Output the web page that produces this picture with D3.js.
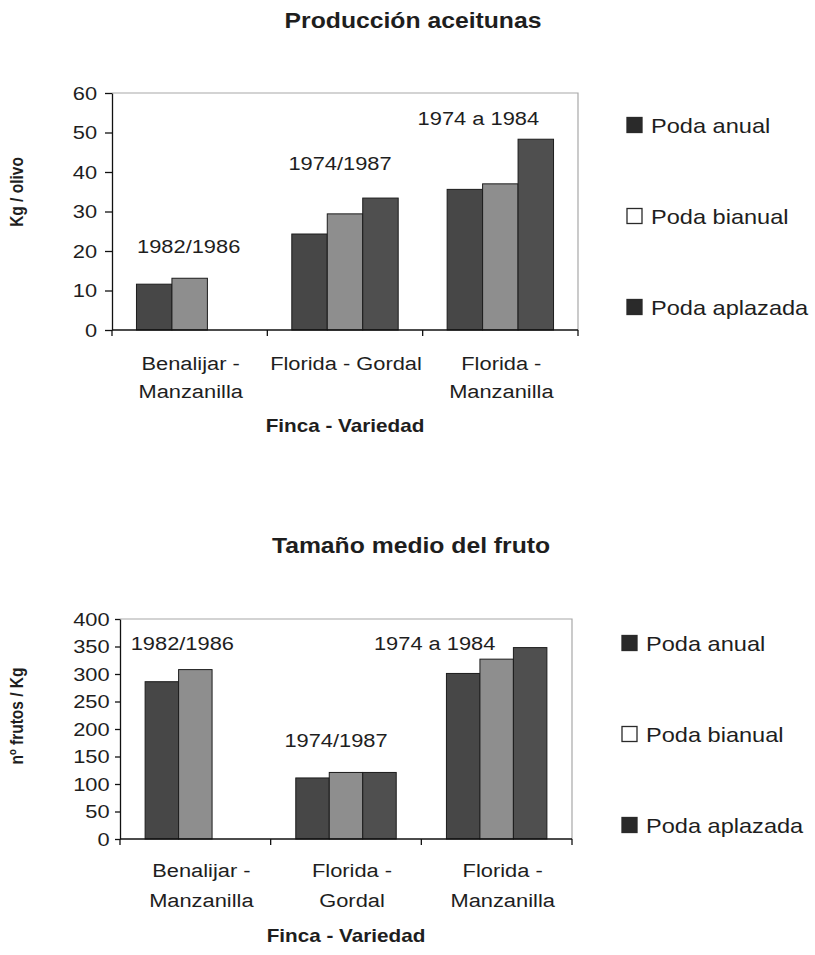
<!DOCTYPE html>
<html lang="es">
<head>
<meta charset="utf-8">
<title>Producción aceitunas</title>
<script src="https://cdn.jsdelivr.net/npm/d3@7"></script>
<style>
  body { margin: 0; background: #fff; }
  svg text { font-family: "Liberation Sans", Arial, sans-serif; fill: #1e1e1e; }
</style>
</head>
<body>
<svg id="chart" width="815" height="955"></svg>
<script>
// series and categories
const series = ["Poda anual", "Poda bianual", "Poda aplazada"];
const catsProduccion = [["Benalijar -", "Manzanilla"], ["Florida - Gordal"], ["Florida -", "Manzanilla"]];
const catsTamano = [["Benalijar -", "Manzanilla"], ["Florida -", "Gordal"], ["Florida -", "Manzanilla"]];
const periods = ["1982/1986", "1974/1987", "1974 a 1984"];

// values per category: anual, bianual, aplazada (null = no bar)
const produccion = [[11.6, 13.1, null], [24.3, 29.4, 33.4], [35.6, 37.0, 48.3]];
const tamano = [[286, 308, null], [111, 121, 121], [301, 327, 348]];

const ticksProduccion = [0, 10, 20, 30, 40, 50, 60];
const ticksTamano = [0, 50, 100, 150, 200, 250, 300, 350, 400];

const barFill = ["#474747", "#8e8e8e", "#4f4f4f"];
const legendFill = ["#2a2a2a", "#fff", "#2a2a2a"];
const K = 1.15; // the scan is a bit wider than tall

const svg = d3.select("#chart");

function stretched(sel, x, y) {
  return sel.attr("transform", `translate(${x},${y}) scale(${K},1)`);
}

function panel(o) {
  const g = svg.append("g");
  const x = d3.scaleBand().domain(d3.range(o.values.length)).range([o.left, o.right]);
  const xs = d3.scaleBand().domain(series).range([0, x.bandwidth()]).paddingOuter(o.po);
  const y = d3.scaleLinear().domain([0, o.max]).range([o.bottom, o.top]);

  // frame
  g.append("path")
    .attr("d", `M${o.left},${o.top}H${o.right}V${o.bottom}`)
    .attr("fill", "none").attr("stroke", "#a8a8a8").attr("stroke-width", 1.2);

  // bars
  o.values.forEach((row, i) => {
    row.forEach((v, j) => {
      if (v == null) return;
      g.append("rect")
        .attr("x", x(i) + xs(series[j]))
        .attr("y", y(v))
        .attr("width", xs.bandwidth())
        .attr("height", y(0) - y(v))
        .attr("fill", barFill[j])
        .attr("stroke", "#1c1c1c")
        .attr("stroke-width", 1);
    });
  });

  // y axis
  const ya = g.append("g")
    .attr("transform", `translate(${o.left},0)`)
    .call(d3.axisLeft(y).tickValues(o.ticks).tickSize(o.tick).tickPadding(o.pad).tickSizeOuter(0));
  ya.attr("font-size", null).attr("font-family", null);
  ya.selectAll("line, path").attr("stroke", "#111").attr("stroke-width", 1.3);
  ya.selectAll("text")
    .attr("transform", `scale(${K},1)`)
    .style("font-size", "19px").attr("fill", "#1e1e1e");

  // x axis with ticks between categories
  g.append("line")
    .attr("x1", o.left).attr("x2", o.right)
    .attr("y1", o.bottom).attr("y2", o.bottom)
    .attr("stroke", "#111").attr("stroke-width", 1.3);
  const bounds = x.domain().map(d => x(d)).concat([o.right]);
  g.selectAll(".xt").data(bounds).join("line")
    .attr("x1", d => d).attr("x2", d => d)
    .attr("y1", o.bottom).attr("y2", o.bottom + 6)
    .attr("stroke", "#111").attr("stroke-width", 1.3);

  // category labels
  o.cats.forEach((lines, i) => {
    lines.forEach((t, k) => {
      stretched(g.append("text"), x(i) + x.bandwidth() / 2 + o.catDx, o.catY + k * o.catLH)
        .attr("text-anchor", "middle").style("font-size", "19px").text(t);
    });
  });

  // period labels
  periods.forEach((t, i) => {
    const p = o.periodAt[i];
    stretched(g.append("text"), x(i) + x.bandwidth() / 2 + p.dx, y(p.v))
      .attr("text-anchor", "middle").style("font-size", "19px").text(t);
  });

  // axis titles
  stretched(g.append("text"), (o.left + o.right) / 2, o.xTitleY)
    .attr("text-anchor", "middle").style("font-size", "18px").style("font-weight", "bold")
    .text("Finca - Variedad");
  g.append("text")
    .attr("transform", `translate(${o.yTitleX},${o.yTitleY}) rotate(-90) scale(1,${K})`)
    .attr("text-anchor", "middle").style("font-size", "15.5px").style("font-weight", "bold")
    .text(o.yTitle);

  // chart title
  stretched(g.append("text"), o.titleX, o.titleY)
    .attr("text-anchor", "middle").style("font-size", "21.5px").style("font-weight", "bold")
    .text(o.title);

  // legend
  series.forEach((s, j) => {
    const cy = o.legY + j * o.legGap;
    g.append("rect")
      .attr("x", o.legX).attr("y", cy - 7.5)
      .attr("width", 15).attr("height", 15)
      .attr("fill", legendFill[j]).attr("stroke", "#2a2a2a").attr("stroke-width", 1.3);
    stretched(g.append("text"), o.legX + 24, cy + 7.5)
      .style("font-size", "20.5px").text(s);
  });
}

panel({
  values: produccion, cats: catsProduccion, ticks: ticksProduccion, max: 60,
  left: 112, right: 578, top: 93, bottom: 330, po: 0.69,
  tick: 7, pad: 6,
  catY: 370, catLH: 28, catDx: 1, xTitleY: 432,
  periodAt: [{ v: 19.5, dx: -1 }, { v: 40.5, dx: -5 }, { v: 51.9, dx: -22 }],
  yTitle: "Kg / olivo", yTitleX: 23, yTitleY: 192,
  title: "Producción aceitunas", titleX: 413, titleY: 28,
  legX: 627, legY: 125, legGap: 91
});

panel({
  values: tamano, cats: catsTamano, ticks: ticksTamano, max: 400,
  left: 120, right: 572, top: 619, bottom: 839, po: 0.75,
  tick: 5, pad: 4,
  catY: 877, catLH: 30, catDx: 6, xTitleY: 942,
  periodAt: [{ v: 343.6, dx: -13 }, { v: 167, dx: -10 }, { v: 343.6, dx: -62 }],
  yTitle: "nº frutos / Kg", yTitleX: 23, yTitleY: 716,
  title: "Tamaño medio del fruto", titleX: 411, titleY: 553,
  legX: 622, legY: 643, legGap: 91
});
</script>
</body>
</html>
